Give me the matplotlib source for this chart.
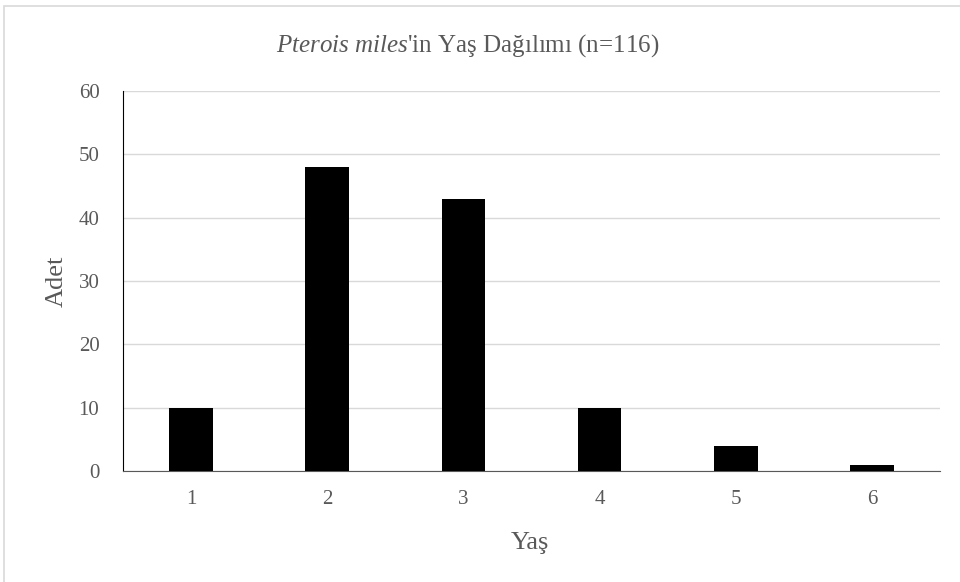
import matplotlib
matplotlib.use("Agg")
import matplotlib.pyplot as plt
from matplotlib.patches import Rectangle

ages = ["1", "2", "3", "4", "5", "6"]
counts = [10, 48, 43, 10, 4, 1]
yticks = [0, 10, 20, 30, 40, 50, 60]

plt.rcParams['font.family'] = ['Liberation Serif', 'DejaVu Serif']
plt.rcParams['mathtext.fontset'] = 'custom'
plt.rcParams['mathtext.rm'] = 'Liberation Serif'
plt.rcParams['mathtext.it'] = 'Liberation Serif:italic'

W, H = 960, 582
fig = plt.figure(figsize=(W/100, H/100), dpi=100)
ax = fig.add_axes([123/W, 1-471/H, (940-123)/W, (471-91)/H])

x = range(len(ages))
ax.bar(x, counts, width=0.32, color='black', zorder=3)
ax.set_xlim(-0.5, len(ages)-0.5)
ax.set_ylim(0, 60)
ax.set_yticks(yticks)
ax.set_xticks(list(x))
ax.set_xticklabels(ages)
ax.yaxis.grid(True, color='#d9d9d9', linewidth=1, zorder=0)
ax.set_axisbelow(True)
for s in ['top', 'right']:
    ax.spines[s].set_visible(False)
ax.spines['left'].set_color('black')
ax.spines['bottom'].set_color('#595959')
ax.tick_params(axis='both', length=0, labelsize=15, colors='#595959')
ax.tick_params(axis='x', pad=14)
ax.tick_params(axis='y', pad=17)

fig.text(57/W, 1-281/H, 'Adet', rotation=90, ha='center', va='center', fontsize=19, color='#595959')
fig.text(530/W, 1-543/H, 'Yaş', ha='center', va='center', fontsize=19, color='#595959')
fig.text(468/W, 1-46/H, r"$\it{Pterois\ miles}$'in Yaş Dağılımı (n=116)", ha='center', va='center',
         fontsize=18, color='#595959')

fig.patches.append(Rectangle((4/W, -0.1), 1.2, 1-6/H+0.1, transform=fig.transFigure,
                             fill=False, edgecolor='#d9d9d9', linewidth=1.2))

fig.savefig('out.png', dpi=100)
